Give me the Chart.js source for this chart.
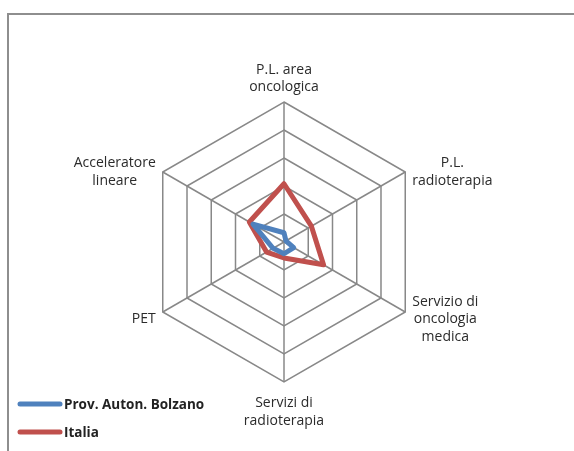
<!DOCTYPE html>
<html lang="it">
<head>
<meta charset="utf-8" />
<title>Radar</title>
<style>
  body { margin: 0; background: #fff; }
  #wrap { position: relative; width: 574px; height: 451px; overflow: hidden; }
  #frame { position: absolute; left: 7px; top: 13px; width: 700px; height: 600px;
           border-top: 2px solid #8e8e8e; border-left: 2px solid #8e8e8e; pointer-events: none; }
</style>
</head>
<body>
<div id="wrap">
  <canvas id="radar" width="574" height="451"></canvas>
  <div id="frame"></div>
</div>

<script src="https://cdn.jsdelivr.net/npm/chart.js@4.4.1/dist/chart.umd.min.js"></script>
<script>
// axis labels (one array per axis, split into lines like the original)
const axisLabels = [
  ['P.L. area', 'oncologica'],
  ['P.L.', 'radioterapia'],
  ['Servizio di', 'oncologia', 'medica'],
  ['Servizi di', 'radioterapia'],
  ['PET'],
  ['Acceleratore', 'lineare']
];

const bolzano = [0.33, 0.08, 0.40, 0.42, 0.45, 1.28];
const italia = [2.08, 1.13, 1.63, 0.57, 0.72, 1.43];

const LH = 17.5;

const labelPlugin = {
  id: 'excelLabels',
  afterDraw(chart) {
    const scale = chart.scales.r;
    const ctx = chart.ctx;
    ctx.save();
    ctx.font = '14px "Open Sans"';
    ctx.fillStyle = '#2b2b2b';
    ctx.textBaseline = 'alphabetic';
    ctx.textAlign = 'center';
    axisLabels.forEach(function (lines, i) {
      const p = scale.getPointPosition(i, scale.drawingArea);
      const w = Math.max.apply(null, lines.map(t => ctx.measureText(t).width));
      const n = lines.length;
      const sx = Math.cos(scale.getIndexAngle(i) - Math.PI / 2);
      let cx, y0;
      if (Math.abs(sx) < 0.01) {
        cx = p.x;
        y0 = p.y < scale.yCenter ? p.y - 11 - (n - 1) * LH : p.y + 25;
      } else {
        cx = sx > 0 ? p.x + 7 + w / 2 : p.x - 7 - w / 2;
        const mid = p.y + (p.y < scale.yCenter ? 4 : 11);
        y0 = mid - (n - 1) * LH / 2;
      }
      lines.forEach(function (t, k) { ctx.fillText(t, cx, y0 + k * LH); });
    });

    // legend, bottom left
    ctx.font = 'bold 13.5px "Open Sans"';
    ctx.textAlign = 'left';
    ctx.lineCap = 'round';
    ctx.lineWidth = 5;
    chart.data.datasets.forEach(function (ds, k) {
      const y = 404 + k * 28;
      ctx.strokeStyle = ds.borderColor;
      ctx.beginPath();
      ctx.moveTo(20, y);
      ctx.lineTo(60, y);
      ctx.stroke();
      ctx.fillStyle = '#222';
      ctx.fillText(ds.label, 64, y + 5);
    });
    ctx.restore();
  }
};

new Chart(document.getElementById('radar'), {
  type: 'radar',
  data: {
    labels: axisLabels,
    datasets: [
      {
        label: 'Prov. Auton. Bolzano',
        data: bolzano,
        borderColor: '#4f81bd',
        borderWidth: 5,
        borderJoinStyle: 'round',
        fill: false,
        pointRadius: 0
      },
      {
        label: 'Italia',
        data: italia,
        borderColor: '#c0504d',
        borderWidth: 5,
        borderJoinStyle: 'round',
        fill: false,
        pointRadius: 0
      }
    ]
  },
  options: {
    responsive: false,
    animation: false,
    layout: { padding: { top: 102, bottom: 69, left: 0, right: 6 } },
    plugins: { legend: { display: false }, tooltip: { enabled: false } },
    elements: { line: { tension: 0 } },
    scales: {
      r: {
        min: 0,
        max: 5,
        ticks: { display: false, stepSize: 1 },
        grid: { color: '#888888', lineWidth: 1.5 },
        angleLines: { color: '#888888', lineWidth: 1.5 },
        pointLabels: { display: false }
      }
    }
  },
  plugins: [labelPlugin]
});
</script>
</body>
</html>
